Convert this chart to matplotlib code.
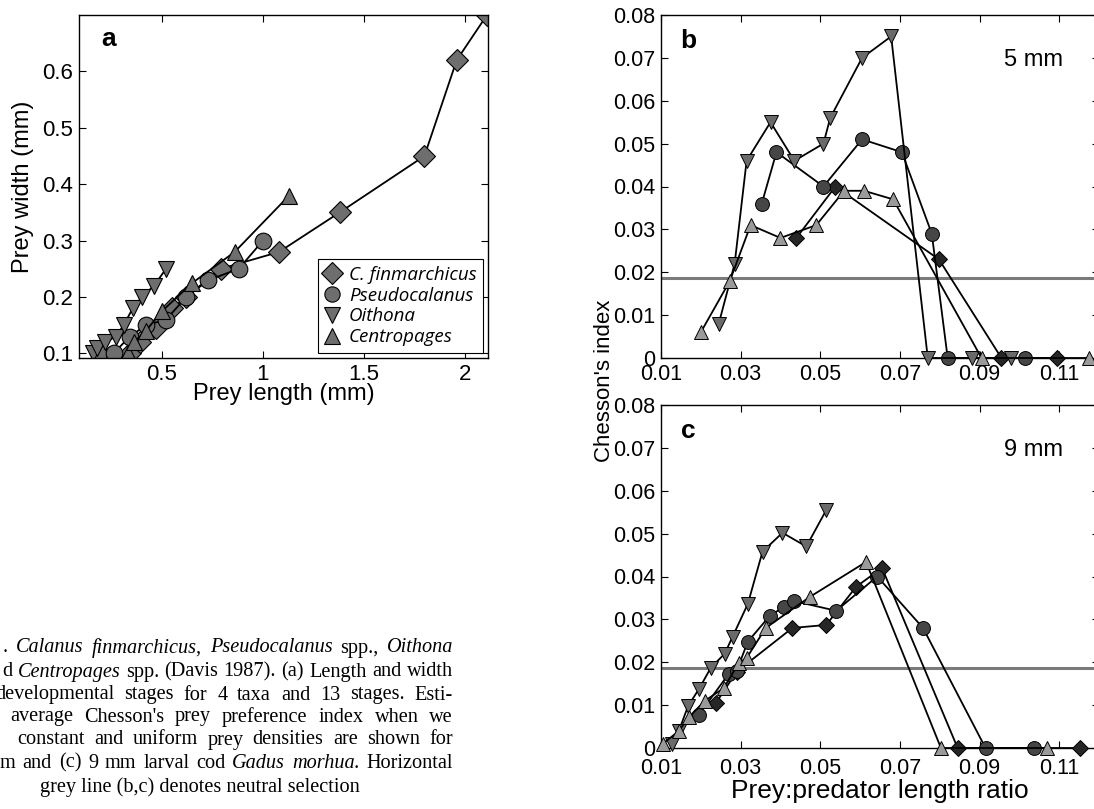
import matplotlib
matplotlib.use('Agg')
import matplotlib.pyplot as plt
import numpy as np

plt.rcParams['font.family'] = ['Liberation Sans', 'DejaVu Sans']

# ---- panel a : prey length vs width ----
cfin_len = [0.34, 0.39, 0.47, 0.55, 0.62, 0.79, 1.08, 1.38, 1.80, 1.96, 2.11]
cfin_wid = [0.10, 0.12, 0.145, 0.18, 0.20, 0.25, 0.28, 0.35, 0.45, 0.62, 0.70]
pseu_len = [0.19, 0.26, 0.34, 0.42, 0.52, 0.62, 0.73, 0.88, 1.00]
pseu_wid = [0.10, 0.10, 0.13, 0.15, 0.16, 0.20, 0.23, 0.25, 0.30]
oith_len = [0.16, 0.18, 0.22, 0.27, 0.31, 0.355, 0.40, 0.46, 0.52]
oith_wid = [0.10, 0.11, 0.12, 0.13, 0.15, 0.18, 0.20, 0.22, 0.25]
cent_len = [0.33, 0.36, 0.42, 0.50, 0.65, 0.86, 1.13]
cent_wid = [0.10, 0.12, 0.14, 0.175, 0.225, 0.28, 0.38]

# ---- panel b : 5 mm larvae ----
b_cfin_x = [0.044, 0.0538, 0.0798, 0.0955, 0.1095]
b_cfin_y = [0.028, 0.040, 0.023, 0.0, 0.0]
b_pseu_x = [0.0353, 0.039, 0.0508, 0.0605, 0.0705, 0.078, 0.082, 0.1015]
b_pseu_y = [0.036, 0.048, 0.040, 0.051, 0.048, 0.029, 0.0, 0.0]
b_oith_x = [0.0245, 0.0285, 0.0315, 0.0375, 0.0435, 0.0508, 0.0525, 0.0605, 0.0678, 0.077, 0.088, 0.0978]
b_oith_y = [0.008, 0.022, 0.046, 0.055, 0.046, 0.050, 0.056, 0.070, 0.075, 0.0, 0.0, 0.0]
b_cent_x = [0.020, 0.0273, 0.0325, 0.040, 0.049, 0.056, 0.061, 0.0683, 0.0905, 0.1175]
b_cent_y = [0.006, 0.018, 0.031, 0.028, 0.031, 0.039, 0.039, 0.037, 0.0, 0.0]

# ---- panel c : 9 mm larvae ----
c_cfin_x = [0.0238, 0.029, 0.043, 0.0515, 0.059, 0.0655, 0.0845, 0.1153]
c_cfin_y = [0.0105, 0.0178, 0.028, 0.0287, 0.0376, 0.042, 0.0, 0.0]
c_pseu_x = [0.0195, 0.027, 0.029, 0.0318, 0.0373, 0.041, 0.0433, 0.054, 0.0643, 0.0758, 0.0915, 0.1038]
c_pseu_y = [0.0077, 0.0173, 0.018, 0.0248, 0.0308, 0.033, 0.0343, 0.032, 0.040, 0.028, 0.0, 0.0]
c_oith_x = [0.0128, 0.0145, 0.0168, 0.0195, 0.0225, 0.026, 0.028, 0.0318, 0.0355, 0.0405, 0.0465, 0.0515]
c_oith_y = [0.001, 0.004, 0.0098, 0.0137, 0.0187, 0.022, 0.026, 0.0336, 0.0458, 0.0502, 0.047, 0.0555]
c_cent_x = [0.0105, 0.0145, 0.017, 0.021, 0.0258, 0.0295, 0.0315, 0.0363, 0.0473, 0.0615, 0.0803, 0.107]
c_cent_y = [0.001, 0.004, 0.0072, 0.011, 0.014, 0.0198, 0.021, 0.028, 0.0352, 0.0434, 0.0, 0.0]

neutral = 0.0186
taxa = ['C. finmarchicus', 'Pseudocalanus', 'Oithona', 'Centropages']

W, H = 1094, 809
fig = plt.figure(figsize=(W / 100, H / 100), dpi=100)

def box(l, t, r, b):
    return [l / W, 1 - b / H, (r - l) / W, (b - t) / H]

def matlab_ticks(ax, size):
    ax.tick_params(direction='in', top=True, right=True, length=5, width=0.8, labelsize=size, pad=4)
    for s in ax.spines.values():
        s.set_linewidth(1.0)

# panel a
ax = fig.add_axes(box(79, 15, 488, 358))
grey = '#6e6e6e'
ax.plot(cfin_len, cfin_wid, '-D', color='k', mfc=grey, mec='k', ms=11, lw=1.3, mew=0.8, label=taxa[0])
ax.plot(pseu_len, pseu_wid, '-o', color='k', mfc=grey, mec='k', ms=12, lw=1.3, mew=0.8, label=taxa[1])
ax.plot(oith_len, oith_wid, '-v', color='k', mfc=grey, mec='k', ms=12, lw=1.3, mew=0.8, label=taxa[2])
ax.plot(cent_len, cent_wid, '-^', color='k', mfc=grey, mec='k', ms=12, lw=1.3, mew=0.8, label=taxa[3])
ax.set_xlim(0.089, 2.115)
ax.set_ylim(0.092, 0.70)
ax.set_xticks([0.5, 1, 1.5, 2])
ax.set_xticklabels(['0.5', '1', '1.5', '2'])
ax.set_yticks([0.1, 0.2, 0.3, 0.4, 0.5, 0.6])
matlab_ticks(ax, 16)
ax.set_xlabel('Prey length (mm)', fontsize=17, labelpad=-1)
ax.set_ylabel('Prey width (mm)', fontsize=17, labelpad=6)
ax.text(0.055, 0.93, 'a', transform=ax.transAxes, fontsize=19, fontweight='bold', va='center')
leg = ax.legend(loc='lower right', bbox_to_anchor=(0.988, 0.015), borderaxespad=0,
                fancybox=False, edgecolor='k',
                prop={'family': 'Open Sans', 'style': 'italic', 'size': 13.5},
                handlelength=0.8, handletextpad=0.5, borderpad=0.35, labelspacing=0.15, framealpha=1)
leg.get_frame().set_linewidth(0.8)
for h in leg.legend_handles:
    h.set_linestyle('none')
    h.set_markersize(11)

# panels b and c
cols = {'cfin': '#262626', 'pseu': '#464646', 'oith': '#6a6a6a', 'cent': '#9a9a9a'}

def chesson(ax, series, label, size_txt):
    ax.axhline(neutral, color='#7a7a7a', lw=2.2, zorder=1)
    for (x, y), key, m, ms in zip(series, ['cfin', 'pseu', 'oith', 'cent'],
                                  ['D', 'o', 'v', '^'], [8, 10, 10, 10]):
        ax.plot(x, y, '-' + m, color='k', mfc=cols[key], mec='k', ms=ms, lw=1.3, mew=0.7,
                clip_on=False, zorder=3)
    ax.set_xlim(0.01, 0.12)
    ax.set_ylim(0, 0.08)
    ax.set_xticks([0.01, 0.03, 0.05, 0.07, 0.09, 0.11])
    ax.set_xticklabels(['0.01', '0.03', '0.05', '0.07', '0.09', '0.11'])
    ax.set_yticks(np.arange(0, 0.081, 0.01))
    ax.set_yticklabels(['0', '0.01', '0.02', '0.03', '0.04', '0.05', '0.06', '0.07', '0.08'])
    matlab_ticks(ax, 15.5)
    ax.text(0.045, 0.925, label, transform=ax.transAxes, fontsize=19, fontweight='bold', va='center')
    ax.text(0.85, 0.87, size_txt, transform=ax.transAxes, fontsize=17, ha='center', va='center')

axb = fig.add_axes(box(661, 15, 1099, 358))
chesson(axb, [(b_cfin_x, b_cfin_y), (b_pseu_x, b_pseu_y), (b_oith_x, b_oith_y), (b_cent_x, b_cent_y)], 'b', '5 mm')
axc = fig.add_axes(box(661, 405, 1099, 748))
chesson(axc, [(c_cfin_x, c_cfin_y), (c_pseu_x, c_pseu_y), (c_oith_x, c_oith_y), (c_cent_x, c_cent_y)], 'c', '9 mm')
axc.tick_params(axis='x', pad=7)
axc.set_xlabel('Prey:predator length ratio', fontsize=19, labelpad=0)
fig.text(605 / W, 1 - 381 / H, "Chesson's index", rotation=90, fontsize=16, ha='center', va='center')

# caption (left part cut off in the original crop)
caption = [
    [('.', 0), ('Calanus', 1), ('finmarchicus,', 1), ('Pseudocalanus', 1), ('spp.,', 0), ('Oithona', 1)],
    [('d', 0), ('Centropages', 1), ('spp.', 0), ('(Davis', 0), ('1987).', 0), ('(a)', 0), ('Length', 0), ('and', 0), ('width', 0)],
    [('developmental', 0), ('stages', 0), ('for', 0), ('4', 0), ('taxa', 0), ('and', 0), ('13', 0), ('stages.', 0), ('Esti-', 0)],
    [('average', 0), ("Chesson's", 0), ('prey', 0), ('preference', 0), ('index', 0), ('when', 0), ('we', 0)],
    [('constant', 0), ('and', 0), ('uniform', 0), ('prey', 0), ('densities', 0), ('are', 0), ('shown', 0), ('for', 0)],
    [('m', 0), ('and', 0), ('(c)', 0), ('9', 0), ('mm', 0), ('larval', 0), ('cod', 0), ('Gadus', 1), ('morhua.', 1), ('Horizontal', 0)],
]
line_left = [3, 2, -5, 10, 17, 0]
line_y = [648, 672, 695, 717, 740, 763]
right = 453
cap_font = dict(fontsize=14.6, family='Liberation Serif')
r = fig.canvas.get_renderer()
for words, left, yy in zip(caption, line_left, line_y):
    txts = []
    for w, it in words:
        t = fig.text(0, 1 - yy / H, w, style='italic' if it else 'normal',
                     va='center', ha='left', **cap_font)
        txts.append(t)
    widths = [t.get_window_extent(r).width for t in txts]
    gap = (right - left - sum(widths)) / (len(txts) - 1)
    x = left
    for t, w in zip(txts, widths):
        t.set_x(x / W)
        x += w + gap
fig.text(200 / W, 1 - 787 / H, 'grey line (b,c) denotes neutral selection',
         ha='center', va='center', **cap_font)

fig.savefig('out.png', dpi=100)
